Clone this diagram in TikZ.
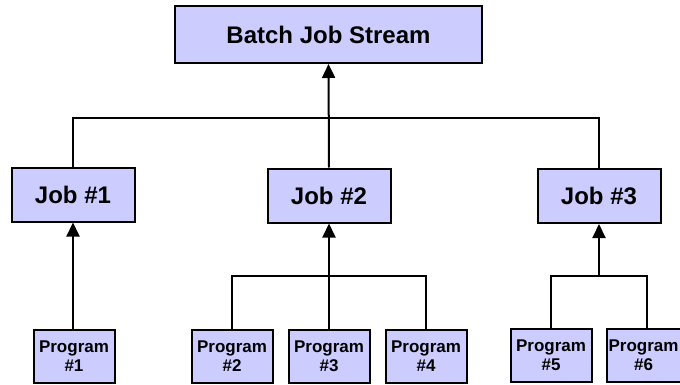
\documentclass[tikz,border=0pt]{standalone}
\usepackage{fontspec}
\setmainfont{Liberation Sans}
\usetikzlibrary{arrows.meta}
\definecolor{boxfill}{RGB}{204,204,255}
\tikzset{
  box/.style={draw=black, line width=2pt, fill=boxfill, inner sep=0pt, align=center, font=\bfseries},
  topbox/.style={box, minimum width=307pt, minimum height=57pt, font=\bfseries\fontsize{24}{28}\selectfont},
  jobbox/.style={box, minimum width=123pt, minimum height=54pt, font=\bfseries\fontsize{24}{28}\selectfont},
  progbox/.style={box, minimum width=81pt, minimum height=53pt, font=\bfseries\fontsize{17}{19}\selectfont},
  link/.style={line width=2pt, line cap=rect},
  uparrow/.style={line width=2pt, -{Triangle[width=13pt,length=14pt]}}
}
\begin{document}
\begin{tikzpicture}[x=1pt,y=-1pt]
\useasboundingbox (0,0) rectangle (680,385);
\clip (0,0) rectangle (680,385);
\node[topbox] (top) at (328.5,34.5) {Batch Job Stream};
\node[jobbox] (j1) at (73,194.5) {Job \#1};
\node[jobbox] (j2) at (329,195.5) {Job \#2};
\node[jobbox] (j3) at (599,196) {Job \#3};
\node[progbox] (p1) at (74,356) {Program\\\#1};
\node[progbox] (p2) at (232,356) {Program\\\#2};
\node[progbox] (p3) at (329,356) {Program\\\#3};
\node[progbox] (p4) at (426,356) {Program\\\#4};
\node[progbox] (p5) at (551,355.5) {Program\\\#5};
\node[progbox] (p6) at (647,355.5) {\hspace*{-7pt}Program\\\hspace*{-7pt}\#6};
\coordinate (b0) at (329,118);
\coordinate (b2) at (329,276);
\coordinate (b3) at (599,276);
% top level
\draw[link] (j1.north) |- (b0) -| (j3.north);
\draw[uparrow] (j2.north) -- (top.south);
% job 1
\draw[uparrow] (p1.north -| j1.south) -- (j1.south);
% job 2
\draw[link] (p2.north) |- (b2) -| (p4.north);
\draw[uparrow] (p3.north) -- (j2.south);
% job 3
\draw[link] (p5.north) |- (b3) -| (p6.north);
\draw[uparrow] (b3) -- (j3.south);
\end{tikzpicture}
\end{document}
